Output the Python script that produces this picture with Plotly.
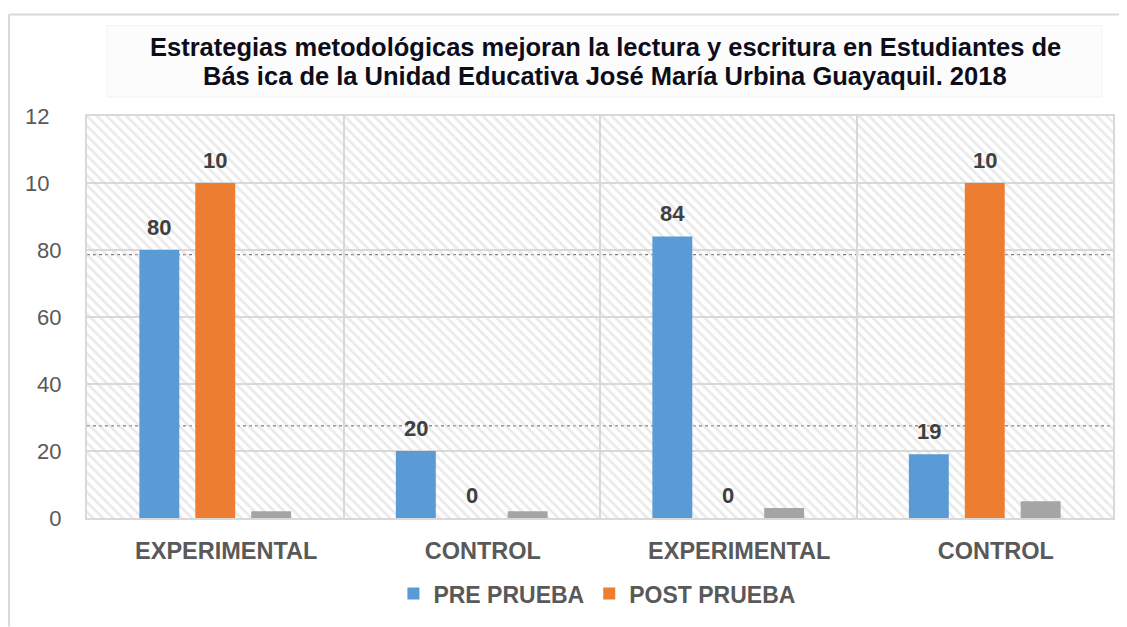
import plotly.graph_objects as go

# ---- data ----
categories = ["EXPERIMENTAL", "CONTROL", "EXPERIMENTAL", "CONTROL"]
pre_prueba = [80, 20, 84, 19]
post_prueba = [100, 0, 0, 100]
third_series = [2, 2, 3, 5]
pre_labels = ["80", "20", "84", "19"]
post_labels = ["10", "0", "0", "10"]
y_tickvals = [0, 20, 40, 60, 80, 100, 120]
y_ticktext = ["0", "20", "40", "60", "80", "10\u00a0\u00a0", "12\u00a0\u00a0"]
title_lines = ["Estrategias metodológicas mejoran la lectura y escritura en Estudiantes de",
               "Bás ica de la Unidad Educativa José María Urbina Guayaquil. 2018"]

xpos = list(range(len(categories)))

BLUE = "#5B9BD5"
ORANGE = "#ED7D31"
GRAY = "#A5A5A5"
TXT = "#595959"
LBL = "#404040"
FONT = "Liberation Sans, Arial, sans-serif"

BARGAP = 0.346
BARGROUPGAP = 0.286
N_SERIES = 3
slot = (1 - BARGAP) / N_SERIES

fig = go.Figure()

# hatched plot-area background (decorative)
fig.add_trace(go.Bar(
    x=[1.5], y=[max(y_tickvals)], width=[4], xaxis="x", yaxis="y",
    marker=dict(color="rgba(0,0,0,0)", line=dict(width=0),
                pattern=dict(shape="\\", fillmode="overlay", fgcolor="#d6d6d6",
                             size=7, solidity=0.4)),
    showlegend=False, hoverinfo="skip",
))

fig.add_trace(go.Bar(
    name="PRE PRUEBA", x=xpos, y=pre_prueba, xaxis="x2", yaxis="y",
    marker=dict(color=BLUE, line=dict(width=0)),
))
fig.add_trace(go.Bar(
    name="POST PRUEBA", x=xpos, y=post_prueba, xaxis="x2", yaxis="y",
    marker=dict(color=ORANGE, line=dict(width=0)),
))
fig.add_trace(go.Bar(
    name="", x=xpos, y=third_series, xaxis="x2", yaxis="y",
    marker=dict(color=GRAY, line=dict(width=0)),
    showlegend=False,
))

# data labels
annotations = []
for k, (vals, labs) in enumerate([(pre_prueba, pre_labels), (post_prueba, post_labels)]):
    off = (k - (N_SERIES - 1) / 2) * slot
    for xi, v, t in zip(xpos, vals, labs):
        annotations.append(dict(
            x=xi + off, y=v, xref="x2", yref="y", text=t, showarrow=False,
            yanchor="middle", yshift=23,
            font=dict(family=FONT, size=22, color=LBL, weight="bold"),
        ))

# title (two lines)
for line, ty in zip(title_lines, [1.1708, 1.099]):
    annotations.append(dict(
        x=0.505, y=ty, xref="paper", yref="paper", text=line, showarrow=False,
        xanchor="center", yanchor="middle",
        font=dict(family=FONT, size=25.5, color="#0d0d1a", weight="bold"),
    ))

fig.update_layout(
    width=1119, height=619,
    margin=dict(l=79, r=14, t=108, b=107),
    paper_bgcolor="white", plot_bgcolor="white",
    barmode="group", bargap=BARGAP, bargroupgap=BARGROUPGAP,
    font=dict(family=FONT, color=TXT),
    xaxis=dict(range=[-0.5, 3.5], visible=False, fixedrange=True),
    xaxis2=dict(range=[-0.5, 3.5], overlaying="x", side="bottom", anchor="y",
                tickvals=xpos, ticktext=categories, showgrid=False,
                ticks="", ticklabelstandoff=11, ticklabelshift=11,
                tickfont=dict(family=FONT, size=23.5, color=TXT, weight="bold"),
                minor=dict(tickvals=[-0.5, 0.5, 1.5, 2.5, 3.5], showgrid=True,
                           gridcolor="#d9d9d9", gridwidth=2),
                showline=True, linecolor="#d9d9d9", linewidth=2, mirror=True,
                zeroline=False),
    yaxis=dict(range=[0, 120], tickvals=y_tickvals, ticktext=y_ticktext,
               showgrid=True, gridcolor="#d9d9d9", gridwidth=2,
               ticks="", ticklabelstandoff=19,
               tickfont=dict(family=FONT, size=22, color=TXT),
               showline=True, linecolor="#d9d9d9", linewidth=2, mirror=True,
               zeroline=False),
    legend=dict(orientation="h", x=0.497, xanchor="center", y=-0.188, yanchor="middle",
                font=dict(family=FONT, size=23, color=TXT, weight="bold"),
                itemwidth=30, bgcolor="rgba(0,0,0,0)"),
    annotations=annotations,
    shapes=[
        # outer chart border (top and left)
        dict(type="line", xref="paper", yref="paper", x0=-0.076, x1=1.02, y0=1.2525, y1=1.2525,
             line=dict(color="#d9d9d9", width=2)),
        dict(type="line", xref="paper", yref="paper", x0=-0.076, x1=-0.076, y0=1.2525, y1=-0.27,
             line=dict(color="#d9d9d9", width=2)),
        # faint title box
        dict(type="rect", xref="paper", yref="paper", x0=0.0195, x1=0.989, y0=1.047, y1=1.225,
             fillcolor="#fcfcfc", line=dict(color="#f3f3f3", width=1), layer="below"),
        # dotted artefact lines
        dict(type="line", xref="paper", yref="y", x0=0, x1=1, y0=78.6, y1=78.6,
             line=dict(color="#555555", width=1, dash="dot"), layer="below"),
        dict(type="line", xref="paper", yref="y", x0=0, x1=1, y0=27.5, y1=27.5,
             line=dict(color="#555555", width=1, dash="dot"), layer="below"),
    ],
)

fig.write_html("out.html")
